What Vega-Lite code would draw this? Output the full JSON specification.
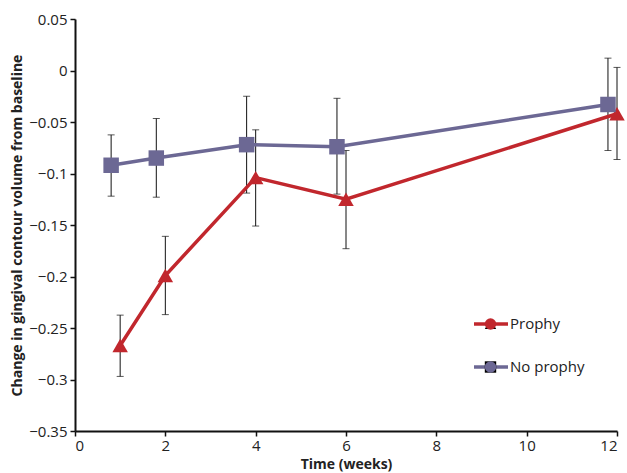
{
  "$schema": "https://vega.github.io/schema/vega-lite/v6.json",
  "width": 542,
  "height": 412,
  "autosize": {"type": "none"},
  "padding": {"left": 75, "top": 19, "right": 10, "bottom": 42},
  "background": "white",
  "config": {
    "view": {"stroke": null},
    "font": "Open Sans",
    "axis": {
      "grid": false,
      "domainColor": "#111",
      "domainWidth": 2,
      "tickColor": "#111",
      "tickWidth": 1.5,
      "tickSize": 5,
      "labelFont": "Open Sans",
      "labelFontSize": 15,
      "labelColor": "#222",
      "titleFont": "Open Sans",
      "titleFontSize": 14,
      "titleFontWeight": "bold",
      "titleColor": "#222"
    }
  },
  "data": {
    "values": [
      {"series": "Prophy", "time": 1, "value": -0.267, "lo": -0.297, "hi": -0.2375},
      {"series": "Prophy", "time": 2, "value": -0.199, "lo": -0.237, "hi": -0.161},
      {"series": "Prophy", "time": 4, "value": -0.104, "lo": -0.151, "hi": -0.0576},
      {"series": "Prophy", "time": 6, "value": -0.125, "lo": -0.173, "hi": -0.0777},
      {"series": "Prophy", "time": 12, "value": -0.042, "lo": -0.0864, "hi": 0.003},
      {"series": "No prophy", "time": 0.8, "value": -0.092, "lo": -0.122, "hi": -0.0625},
      {"series": "No prophy", "time": 1.8, "value": -0.085, "lo": -0.123, "hi": -0.0466},
      {"series": "No prophy", "time": 3.8, "value": -0.072, "lo": -0.119, "hi": -0.025},
      {"series": "No prophy", "time": 5.8, "value": -0.074, "lo": -0.12, "hi": -0.027},
      {"series": "No prophy", "time": 11.8, "value": -0.033, "lo": -0.0777, "hi": 0.012}
    ]
  },
  "layer": [
    {
      "mark": {"type": "rule", "color": "#111", "strokeWidth": 1},
      "encoding": {
        "x": {"field": "time", "type": "quantitative",
          "scale": {"domain": [0, 12], "nice": false, "zero": false},
          "axis": {"values": [0, 2, 4, 6, 8, 10, 12], "title": "Time (weeks)", "labelPadding": 2, "titlePadding": 4}},
        "y": {"field": "lo", "type": "quantitative",
          "scale": {"domain": [-0.35, 0.05], "nice": false, "zero": false},
          "axis": {"values": [-0.35, -0.3, -0.25, -0.2, -0.15, -0.1, -0.05, 0, 0.05],
            "format": ".2~f",
            "title": "Change in gingival contour volume from baseline", "labelPadding": 3, "titlePadding": 4}},
        "y2": {"field": "hi"}
      }
    },
    {
      "mark": {"type": "tick", "color": "#111", "thickness": 1, "size": 7, "orient": "horizontal"},
      "encoding": {
        "x": {"field": "time", "type": "quantitative"},
        "y": {"field": "lo", "type": "quantitative"}
      }
    },
    {
      "mark": {"type": "tick", "color": "#111", "thickness": 1, "size": 7, "orient": "horizontal"},
      "encoding": {
        "x": {"field": "time", "type": "quantitative"},
        "y": {"field": "hi", "type": "quantitative"}
      }
    },
    {
      "mark": {"type": "line", "strokeWidth": 3.5},
      "encoding": {
        "x": {"field": "time", "type": "quantitative"},
        "y": {"field": "value", "type": "quantitative"},
        "stroke": {"field": "series", "type": "nominal",
          "scale": {"domain": ["Prophy", "No prophy"], "range": ["#C1272D", "#6C6894"]},
          "legend": {
            "title": null,
            "orient": "none",
            "legendX": 397,
            "legendY": 295,
            "symbolType": "stroke",
            "symbolSize": 1156,
            "symbolStrokeWidth": 3.5,
            "clipHeight": 20,
            "rowPadding": 23,
            "labelOffset": 0,
            "labelFont": "Open Sans",
            "labelFontSize": 15,
            "labelColor": "#222"
          }},
        "detail": {"field": "series"}
      }
    },
    {
      "mark": {"type": "point", "filled": true, "opacity": 1, "size": 240, "strokeWidth": 0},
      "encoding": {
        "x": {"field": "time", "type": "quantitative"},
        "y": {"field": "value", "type": "quantitative"},
        "fill": {"field": "series", "type": "nominal",
          "sort": ["Prophy", "No prophy"],
          "scale": {"range": ["#C1272D", "#6C6894"]},
          "legend": {
            "title": null,
            "orient": "none",
            "legendX": 408,
            "legendY": 295,
            "symbolSize": 130,
            "symbolStrokeWidth": 0,
            "symbolOpacity": 1,
            "clipHeight": 20,
            "rowPadding": 23,
            "labelExpr": "''",
            "labelFontSize": 15
          }},
        "shape": {"field": "series", "type": "nominal",
          "sort": ["Prophy", "No prophy"],
          "scale": {"range": ["triangle-up", "square"]},
          "legend": {
            "title": null,
            "orient": "none",
            "legendX": 408,
            "legendY": 295,
            "symbolSize": 130,
            "symbolStrokeWidth": 0,
            "symbolOpacity": 1,
            "clipHeight": 20,
            "rowPadding": 23,
            "labelExpr": "''",
            "labelFontSize": 15
          }}
      }
    }
  ]
}
